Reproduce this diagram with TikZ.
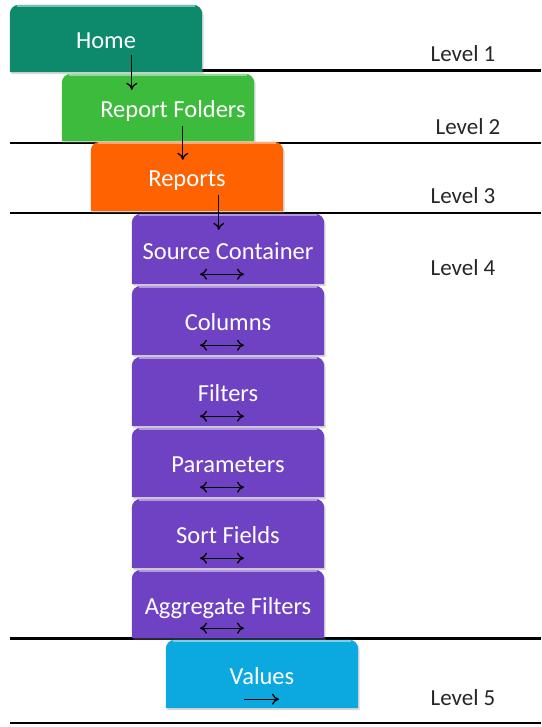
\documentclass[tikz,border=0pt]{standalone}
\usepackage{fontspec}
\setmainfont{Carlito}
\usetikzlibrary{arrows.meta,calc,shadows}
\pgfdeclarelayer{back}
\pgfdeclarelayer{mid}
\pgfsetlayers{back,mid,main}
\definecolor{chome}{HTML}{0D8A6C}
\definecolor{cfold}{HTML}{3DBB3D}
\definecolor{crep}{HTML}{FF6200}
\definecolor{cpur}{HTML}{6F42C4}
\definecolor{cval}{HTML}{0BA9E0}
\newcommand\tabfill[2]{%
  \begin{pgfonlayer}{mid}
    \fill[#2, drop shadow={opacity=0.3,shadow xshift=1.5pt,shadow yshift=-2pt}]
      (#1.south west) [rounded corners=9pt] -- (#1.north west) -- (#1.north east)
      [sharp corners] -- (#1.south east) -- cycle;
    \draw[#2!55!white, line width=1.2pt]
      ($(#1.north west)+(7pt,-1.2pt)$) -- ($(#1.north east)+(-7pt,-1.2pt)$);
  \end{pgfonlayer}}
\tikzset{
  x=1pt, y=1pt,
  boxfont/.style={text=white, font=\fontsize{24.5}{28}\selectfont, text height=26pt, text depth=5pt},
  tabbox/.style={minimum width=192pt, inner sep=0pt, boxfont},
  levline/.style={line width=2.3pt, black},
  levtext/.style={font=\fontsize{23}{26}\selectfont, text=black!85, inner sep=0pt},
  arr/.style={line width=1.3pt, -{To[length=7pt,width=11pt]}},
  dbl/.style={line width=1.3pt, {To[length=7pt,width=11pt]}-{To[length=7pt,width=11pt]}}
}
\begin{document}
\begin{tikzpicture}
\useasboundingbox (0,0) rectangle (541,727);

% boxes
\node[tabbox, minimum height=67pt] (home) at (106,688.5) {Home};
\node[tabbox, minimum height=67pt] (rf) at (158,619.5) {};
\node[boxfont, inner sep=0pt] (rft) at ($(rf.center)+(15,0)$) {Report Folders};
\node[tabbox, minimum height=69pt] (rep) at (187,550.5) {Reports};
\node[tabbox, minimum height=70pt] (sc) at (228,478) {Source Container};
\node[tabbox, minimum height=69pt] (col) at (228,406.5) {Columns};
\node[tabbox, minimum height=69pt] (fil) at (228,335.5) {Filters};
\node[tabbox, minimum height=69pt] (par) at (228,264.5) {Parameters};
\node[tabbox, minimum height=69pt] (sort) at (228,193.5) {Sort Fields};
\node[tabbox, minimum height=68pt] (agg) at (228,123) {Aggregate Filters};
\node[tabbox, minimum height=68pt] (val) at (262,53) {Values};

\tabfill{home}{chome}
\tabfill{rf}{cfold}
\tabfill{rep}{crep}
\tabfill{sc}{cpur}
\tabfill{col}{cpur}
\tabfill{fil}{cpur}
\tabfill{par}{cpur}
\tabfill{sort}{cpur}
\tabfill{agg}{cpur}
\tabfill{val}{cval}

% level lines
\begin{pgfonlayer}{back}
\coordinate (l1a) at (10,656.5); \coordinate (l1b) at (541,656.5);
\coordinate (l2a) at (10,583.7); \coordinate (l2b) at (541,583.7);
\coordinate (l3a) at (10,513.7); \coordinate (l3b) at (541,513.7);
\coordinate (l4a) at (10,88.5);  \coordinate (l4b) at (541,88.5);
\coordinate (l5a) at (10,4);     \coordinate (l5b) at (541,4);
\draw[levline] (l1a) -- (l1b);
\draw[levline] (l2a) -- (l2b);
\draw[levline] (l3a) -- (l3b);
\draw[levline] (l4a) -- (l4b);
\draw[levline] (l5a) -- (l5b);
\end{pgfonlayer}

% level labels
\node[levtext] (lv1) at (463,673) {Level 1};
\node[levtext] (lv2) at (468,600) {Level 2};
\node[levtext] (lv3) at (463,531) {Level 3};
\node[levtext] (lv4) at (463,459) {Level 4};
\node[levtext] (lv5) at (463,29) {Level 5};

% flow arrows
\draw[arr] ($(home.south west)+(122,17)$) -- ($(rf.north west)+(70,-16)$);
\draw[arr] ($(rf.south west)+(121,15)$) -- ($(rep.north west)+(92,-18)$);
\draw[arr] ($(rep.south west)+(128,16)$) -- ($(sc.north west)+(87,-16)$);

% double arrows
\foreach \b in {sc,col,fil,par,sort,agg}{
  \draw[dbl] ($(\b.south)+(-28,10)$) -- ($(\b.south)+(16,10)$);
}
\draw[arr] ($(val.south)+(-18,9)$) -- ($(val.south)+(17,9)$);
\end{tikzpicture}
\end{document}
